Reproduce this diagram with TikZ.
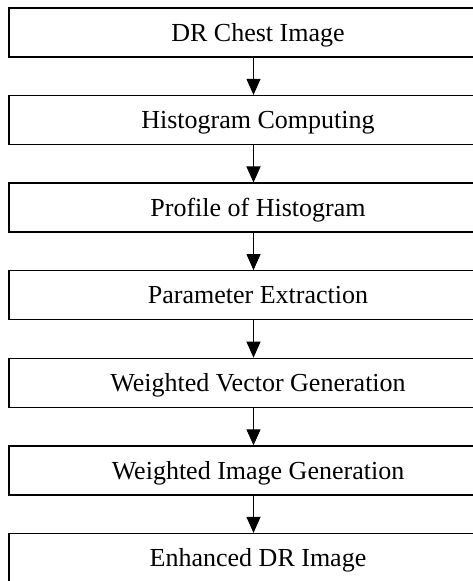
\documentclass[tikz,border=0pt]{standalone}
\usepackage{fontspec}
\setmainfont{Liberation Serif}
\usetikzlibrary{arrows.meta}
\begin{document}
\begin{tikzpicture}[x=1pt,y=1pt,
  stepbox/.style={draw, line width=1.4pt, minimum width=498pt, minimum height=49pt,
    inner sep=0pt, text height=17.2pt, text depth=0pt,
    font=\fontsize{26}{30}\selectfont},
  flow/.style={line width=1pt, -{Triangle[length=16pt,width=14pt]}}]
\useasboundingbox (0,0) rectangle (472,581);
% boxes stacked top to bottom, 87.6pt apart
\node[stepbox] (s1) at (258,548.5) {DR Chest Image};
\node[stepbox] (s2) at (258,460.9) {Histogram Computing};
\node[stepbox] (s3) at (258,373.3) {Profile of Histogram};
\node[stepbox] (s4) at (258,285.7) {Parameter Extraction};
\node[stepbox] (s5) at (258,198.1) {Weighted Vector Generation};
\node[stepbox] (s6) at (258,110.5) {Weighted Image Generation};
\node[stepbox] (s7) at (258,22.9) {Enhanced DR Image};
% arrows between consecutive steps
\foreach \a/\b in {s1/s2,s2/s3,s3/s4,s4/s5,s5/s6,s6/s7}
  \draw[flow] ([xshift=-4.5pt]\a.south) -- ([xshift=-4.5pt]\b.north);
\end{tikzpicture}
\end{document}
